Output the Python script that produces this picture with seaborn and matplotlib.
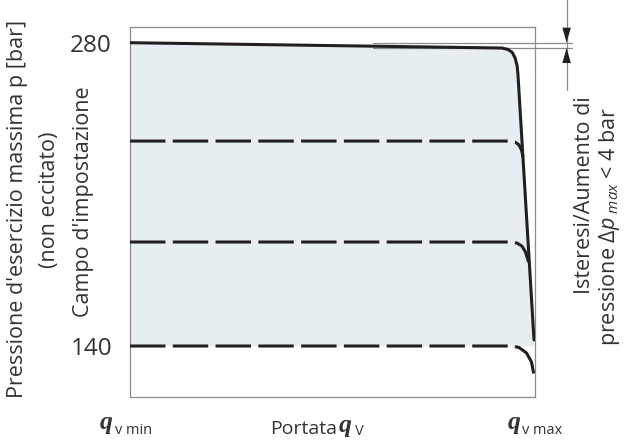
import numpy as np
import pandas as pd
import matplotlib
matplotlib.use("Agg")
import matplotlib.pyplot as plt
import seaborn as sns

# flow in % of q_v max range (0 = q_v min, 100 = q_v max), pressure in bar
top_x = [0, 91.8, 93.3, 94.4, 95.1, 95.6, 95.8, 99.75]
top_p = [280, 277.55, 276.9, 275.5, 272.9, 269.2, 265.1, 142.8]

lvl235_x = [0, 93.83, 95.06, 96.05, 96.67, 97.04]
lvl235_p = [234.6, 234.6, 234.2, 232.8, 230.5, 227.2]

lvl188_x = [0, 93.83, 95.56, 96.79, 97.65, 98.40]
lvl188_p = [188.0, 188.0, 187.5, 186.1, 183.4, 178.8]

lvl140_x = [0, 94.32, 96.05, 97.90, 99.14, 99.88]
lvl140_p = [140.0, 140.0, 139.3, 136.8, 132.6, 125.2]

p_ticks = [140, 280]
fill_bottom = 140

sns.set_theme(style="white")
plt.rcParams["font.family"] = ["Open Sans", "DejaVu Sans"]
plt.rcParams["mathtext.fontset"] = "custom"
plt.rcParams["mathtext.rm"] = "Open Sans"
plt.rcParams["mathtext.it"] = "Open Sans:italic"

INK = "#231f20"
GREY = "#8c8c8c"
FILL = "#e6eef2"
TXT = "#333333"

fig = plt.figure(figsize=(6.25, 4.41), dpi=100)
ax = fig.add_axes([130 / 625, 1 - 397 / 441, 405 / 625, 370 / 441])

ax.fill_between(top_x, top_p, fill_bottom, color=FILL, lw=0, zorder=1)

dash = (0, (11.6, 2.4))
for xs, ps in [(lvl235_x, lvl235_p), (lvl188_x, lvl188_p), (lvl140_x, lvl140_p)]:
    sns.lineplot(x=xs, y=ps, sort=False, estimator=None, ax=ax, color=INK,
                 lw=2.2, linestyle=dash, zorder=3)
sns.lineplot(x=top_x, y=top_p, sort=False, estimator=None, ax=ax, color=INK,
             lw=2.2, zorder=4, solid_joinstyle="round")

ax.set_xlim(0, 100)
ax.set_ylim(116.46, 287.25)
for s in ax.spines.values():
    s.set_color(GREY)
    s.set_linewidth(0.9)

ax.set_xticks([])
ax.set_yticks(p_ticks)
ax.set_yticklabels([str(v) for v in p_ticks], fontsize=17.5, color=TXT)
ax.tick_params(axis="y", length=0, pad=13)
ax.set_xlabel("")
ax.set_ylabel("")

# hysteresis marker on the right
x_start, x_end, x_arrow = 60, 109.1, 107.8
for p in (top_p[0], top_p[1]):
    ax.plot([x_start, x_end], [p, p], color=GREY, lw=0.9, clip_on=False, zorder=2)
ax.plot([x_arrow, x_arrow], [299.7, 258.2], color=GREY, lw=0.9, clip_on=False, zorder=2)
head = "-|>,head_length=0.6,head_width=0.17"
ax.annotate("", xy=(x_arrow, top_p[0]), xytext=(x_arrow, top_p[0] + 7.2),
            arrowprops=dict(arrowstyle=head, color=INK, lw=0.01, mutation_scale=18,
                            shrinkA=0, shrinkB=0), annotation_clip=False)
ax.annotate("", xy=(x_arrow, top_p[1]), xytext=(x_arrow, top_p[1] - 7.8),
            arrowprops=dict(arrowstyle=head, color=INK, lw=0.01, mutation_scale=18,
                            shrinkA=0, shrinkB=0), annotation_clip=False)

def ftext(px, py, s, **kw):
    fig.text(px / 625, 1 - py / 441, s, color=TXT, **kw)

LBL = 15.5
ftext(18, 209, "Pressione d'esercizio massima p [bar]", rotation=90,
      ha="center", va="center", fontsize=LBL)
ftext(49, 200, "(non eccitato)", rotation=90, ha="center", va="center", fontsize=LBL)
ftext(83, 202, "Campo d'impostazione", rotation=90, ha="center", va="center", fontsize=LBL)

ftext(585, 195, "Isteresi/Aumento di", rotation=90, ha="center", va="center", fontsize=LBL)
ftext(610, 226, r"pressione $\mathit{\Delta p}_{\ max}$ < 4 bar", rotation=90,
      ha="center", va="center", fontsize=LBL)

QFONT = dict(family="Liberation Serif", weight="bold", style="italic", fontsize=18.5)
ftext(100, 429, "q", ha="left", va="baseline", **QFONT)
ftext(115, 434, "v min", ha="left", va="baseline", fontsize=10.5)
ftext(508, 429, "q", ha="left", va="baseline", **QFONT)
ftext(522, 434, "v max", ha="left", va="baseline", fontsize=10.5)
ftext(270, 434, "Portata", ha="left", va="baseline", fontsize=14)
ftext(339, 432, "q", ha="left", va="baseline", **QFONT)
ftext(355, 435, "V", ha="left", va="baseline", fontsize=10.5)

fig.savefig("out.png", dpi=100)
